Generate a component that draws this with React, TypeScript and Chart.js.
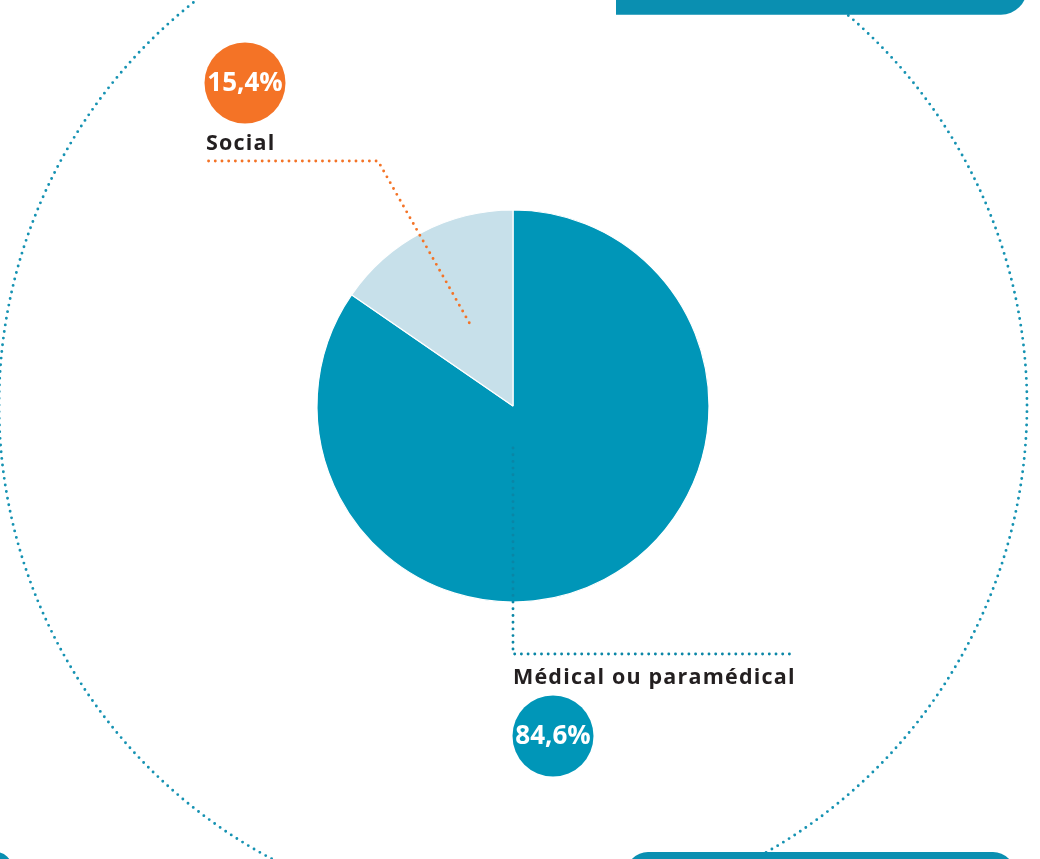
import React, { useEffect, useRef } from 'react';
import { Chart, registerables } from 'chart.js';

Chart.register(...registerables);

// ---- data ----
const categories = ['Médical ou paramédical', 'Social'];
const shares = [84.6, 15.4];
const sliceColors = ['#0096b8', '#c7e0ea'];
const badgeColors = ['#0096b8', '#f47326'];
const leaderColors = ['#0a86a6', '#f47326'];

// ---- layout ----
const W = 1040;
const H = 859;
const CX = 513;
const CY = 406;
const R = 196;
const TEAL = '#0a8fb1';
const TEXT = '#231f20';
const FONT = '"Open Sans", "DejaVu Sans", sans-serif';

const fmt = (v: number) => v.toFixed(1).replace('.', ',') + '%';

function dotted(ctx: CanvasRenderingContext2D, color: string, width = 2.9, gap = 6.7) {
  ctx.strokeStyle = color;
  ctx.lineWidth = width;
  ctx.lineCap = 'round';
  ctx.setLineDash([0, gap]);
}

const decor = {
  id: 'decor',
  beforeDraw(chart: any) {
    const ctx: CanvasRenderingContext2D = chart.ctx;
    ctx.save();
    ctx.fillStyle = '#ffffff';
    ctx.fillRect(0, 0, W, H);
    // big dotted ring
    ctx.beginPath();
    ctx.arc(CX, 405, 514, 0, Math.PI * 2);
    dotted(ctx, '#1592b2', 2.9, 6.7);
    ctx.stroke();
    ctx.setLineDash([]);
    // partial teal boxes
    ctx.fillStyle = TEAL;
    ctx.beginPath();
    (ctx as any).roundRect(616, -40, 411, 54.7, [0, 0, 26, 0]);
    ctx.fill();
    ctx.beginPath();
    (ctx as any).roundRect(626, 852, 389, 60, [22, 22, 0, 0]);
    ctx.fill();
    ctx.beginPath();
    (ctx as any).roundRect(-100, 852, 112, 60, [0, 16, 0, 0]);
    ctx.fill();
    ctx.restore();
  },
  afterDraw(chart: any) {
    const ctx: CanvasRenderingContext2D = chart.ctx;
    const meta = chart.getDatasetMeta(0);
    ctx.save();

    // anchor inside Social slice (mid angle, ~0.48 r)
    const arcS = meta.data[1];
    const midS = (arcS.startAngle + arcS.endAngle) / 2;
    const ax = arcS.x + Math.cos(midS) * arcS.outerRadius * 0.48;
    const ay = arcS.y + Math.sin(midS) * arcS.outerRadius * 0.48;

    // Social leader
    ctx.beginPath();
    ctx.moveTo(ax, ay);
    ctx.lineTo(378, 161);
    ctx.lineTo(207, 161);
    dotted(ctx, leaderColors[1], 2.9, 6.7);
    ctx.stroke();

    // Medical leader
    const arcM = meta.data[0];
    ctx.beginPath();
    ctx.moveTo(arcM.x, arcM.y + 42);
    ctx.lineTo(arcM.x, 654);
    ctx.lineTo(795, 654);
    dotted(ctx, leaderColors[0], 2.9, 6.7);
    ctx.stroke();
    ctx.setLineDash([]);

    // badges
    const badges = [
      { i: 1, x: 245, y: 83 },
      { i: 0, x: 553, y: 736 },
    ];
    badges.forEach((b) => {
      ctx.fillStyle = badgeColors[b.i];
      ctx.beginPath();
      ctx.arc(b.x, b.y, 40.5, 0, Math.PI * 2);
      ctx.fill();
      ctx.fillStyle = '#ffffff';
      ctx.font = `700 26px ${FONT}`;
      (ctx as any).letterSpacing = '0px';
      ctx.textAlign = 'center';
      ctx.textBaseline = 'middle';
      ctx.fillText(fmt(shares[b.i]), b.x, b.y + 1);
    });

    // category labels
    ctx.fillStyle = TEXT;
    ctx.font = `700 21.5px ${FONT}`;
    (ctx as any).letterSpacing = '1.2px';
    ctx.textAlign = 'left';
    ctx.textBaseline = 'alphabetic';
    ctx.fillText(categories[1], 206, 150);
    ctx.fillText(categories[0], 513, 684);

    ctx.restore();
  },
};

export default function App() {
  const ref = useRef<HTMLCanvasElement>(null);
  useEffect(() => {
    if (!ref.current) return;
    const chart = new Chart(ref.current, {
      type: 'pie',
      data: {
        labels: categories,
        datasets: [
          {
            data: shares,
            backgroundColor: sliceColors,
            borderColor: '#ffffff',
            borderWidth: 1.2,
            hoverOffset: 0,
            offset: 0,
            radius: R,
          } as any,
        ],
      },
      options: {
        responsive: false,
        animation: false,
        events: [],
        layout: {
          padding: { left: CX - R, right: W - CX - R, top: CY - R, bottom: H - CY - R },
        },
        plugins: {
          legend: { display: false },
          tooltip: { enabled: false },
        },
      },
      plugins: [decor],
    });
    return () => chart.destroy();
  }, []);
  return (
    <div style={{ position: 'fixed', left: 0, top: 0, width: W, height: H, overflow: 'hidden', background: '#fff' }}>
      <canvas ref={ref} width={W} height={H} style={{ display: 'block', width: W, height: H }} />
    </div>
  );
}
